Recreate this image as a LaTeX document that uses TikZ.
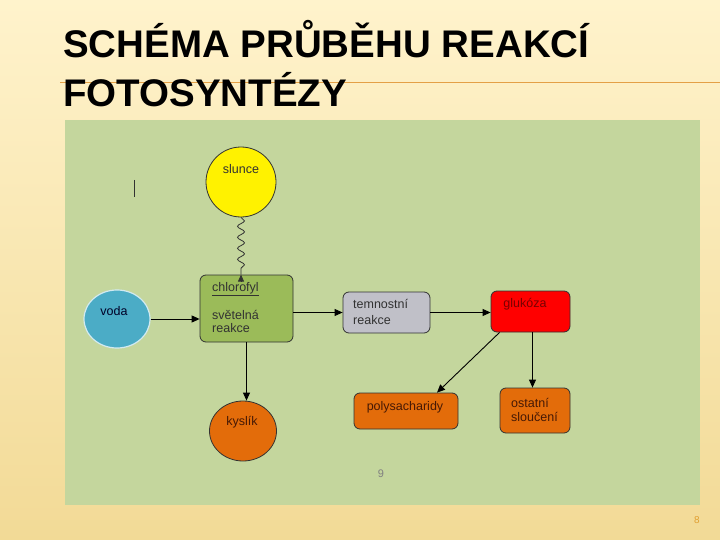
\documentclass[tikz,border=0pt]{standalone}
\usepackage{fontspec}
\setmainfont{Liberation Sans}
\usetikzlibrary{arrows.meta,decorations.pathmorphing,shapes.geometric}
\definecolor{bgtop}{RGB}{255,243,204}
\definecolor{bgbot}{RGB}{242,218,150}
\definecolor{rule}{RGB}{228,160,70}
\definecolor{panel}{RGB}{196,214,157}
\definecolor{chl}{RGB}{155,187,89}
\definecolor{water}{RGB}{75,172,198}
\definecolor{grey}{RGB}{192,192,200}
\definecolor{orng}{RGB}{227,108,10}
\definecolor{dred}{RGB}{120,0,0}
\definecolor{brown}{RGB}{70,25,5}
\definecolor{edge}{RGB}{50,50,50}
\definecolor{pagenum}{RGB}{225,160,50}
\tikzset{
  lbl/.style={font=\fontsize{12.5}{14}\selectfont, inner sep=0pt, text=edge},
  box/.style={draw=edge, line width=0.8pt, rounded corners=6pt, inner sep=0pt},
  blob/.style={draw=edge, line width=0.8pt, inner sep=0pt},
  conn/.style={draw=black, line width=0.9pt, -{Triangle[length=8pt,width=7pt]}},
  title/.style={font=\fontsize{38.5}{44}\selectfont\bfseries, inner sep=0pt, anchor=base west, text=black}
}
\begin{document}
\begin{tikzpicture}[x=1pt,y=-1pt]
\useasboundingbox (0,0) rectangle (720,540);
\shade[top color=bgtop, bottom color=bgbot] (0,0) rectangle (720,540);
% orange rule
\coordinate (r1) at (60,82.5);
\coordinate (r2) at (720,82.5);
\draw[rule, line width=1.2pt] (r1) -- (r2);
% title
\node[title] (t1) at (63,58) {SCHÉMA PRŮBĚHU REAKCÍ};
\node[title] (t2) at (63,107) {FOTOSYNTÉZY};
% panel
\fill[panel] (65,120) rectangle (700,505);
% cursor mark
\draw[edge, line width=0.8pt] (134,180) -- (134,197);
% nodes
\node[blob, circle, fill=yellow, minimum size=70pt] (slunce) at (241,182) {};
\node[lbl] (slunceT) at (241,169) {slunce};
\node[box, fill=chl, minimum width=93pt, minimum height=67pt] (chl) at (246.5,308.5) {};
\node[lbl, anchor=west] (chlT1) at (212,289) {\underline{chlorofyl}};
\node[lbl, anchor=west] (chlT2) at (212,315) {světelná};
\node[lbl, anchor=west] (chlT3) at (212,328) {reakce};
\node[ellipse, draw=white!75!water, line width=1.2pt, fill=water, minimum width=66pt, minimum height=58pt, inner sep=0pt] (voda) at (117,319) {};
\node[lbl, text=black!85!blue] (vodaT) at (114,311) {voda};
\node[box, fill=grey, minimum width=87pt, minimum height=41pt] (temn) at (386.5,312.5) {};
\node[lbl, anchor=west] (temnT1) at (353,304) {temnostní};
\node[lbl, anchor=west] (temnT2) at (353,320) {reakce};
\node[box, fill=red, minimum width=79pt, minimum height=41pt] (gluk) at (530.5,311.5) {};
\node[lbl, text=dred] (glukT) at (525,304) {glukóza};
\node[box, fill=orng, minimum width=104pt, minimum height=36pt] (poly) at (406,411) {};
\node[lbl, text=brown] (polyT) at (405,407) {polysacharidy};
\node[box, fill=orng, minimum width=70pt, minimum height=45pt] (ost) at (535,410.5) {};
\node[lbl, anchor=west, text=brown] (ostT1) at (511,403) {ostatní};
\node[lbl, anchor=west, text=brown] (ostT2) at (511,417) {sloučení};
\node[blob, ellipse, fill=orng, minimum width=67pt, minimum height=60pt] (kysl) at (243,431) {};
\node[lbl, text=brown] (kyslT) at (242,422) {kyslík};
\node[lbl, text=black!50, font=\fontsize{11}{12}\selectfont] (nine) at (381,474) {9};
\node[lbl, text=pagenum, font=\fontsize{10}{12}\selectfont] (page) at (697,520) {8};
% connectors
\draw[edge, line width=0.8pt, decorate, decoration={snake, amplitude=3.5pt, segment length=11pt, post length=6pt}] (slunce.south) -- (slunce.south |- chl.north);
\draw[edge, line width=0.8pt, -{Triangle[length=7pt,width=6pt]}] ([yshift=-6pt]slunce.south |- chl.north) -- (slunce.south |- chl.north);
\draw[conn] (voda.east) -- (chl.west |- voda.east);
\draw[conn] (chl.east |- temn.west) -- (temn.west);
\draw[conn] (temn.east) -- (gluk.west |- temn.east);
\draw[conn] ([xshift=9pt]gluk.south west) -- ([xshift=31pt]poly.north);
\draw[conn] ([xshift=2pt]gluk.south) -- ([xshift=2pt]gluk.south |- ost.north);
\draw[conn] (chl.south) -- (chl.south |- kysl.north);
\end{tikzpicture}
\end{document}
